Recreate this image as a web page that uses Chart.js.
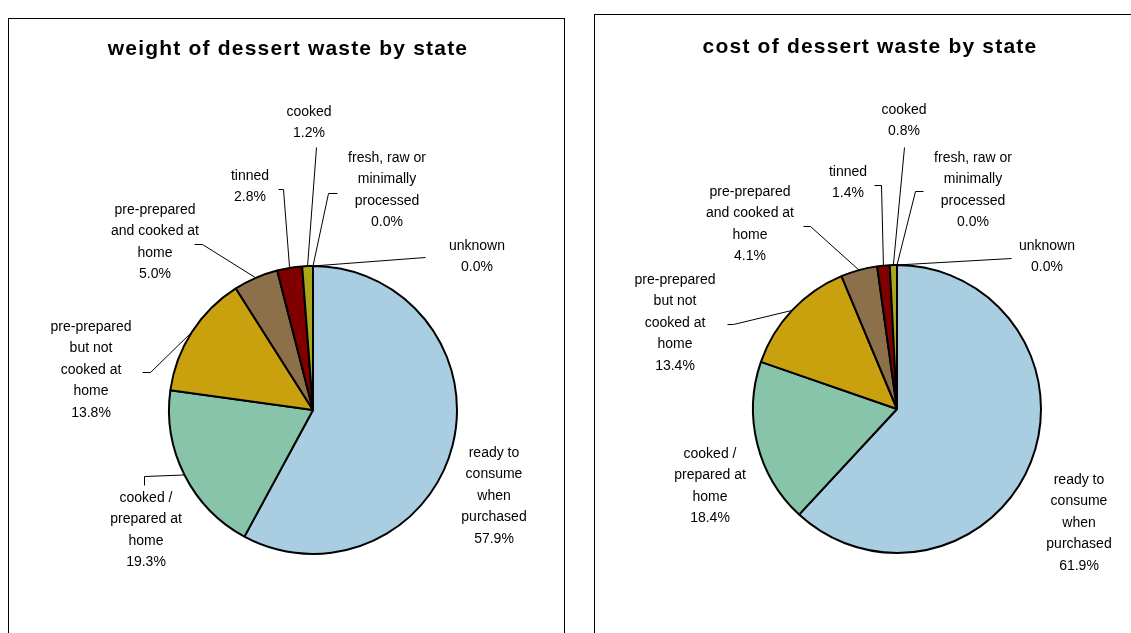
<!DOCTYPE html>
<html>
<head>
<meta charset="utf-8">
<script src="https://cdn.jsdelivr.net/npm/chart.js@4"></script>
<style>
body { margin: 0; background: #fff; width: 1131px; height: 633px; overflow: hidden; position: relative; }
.box { position: absolute; border: 1px solid #000; background: #fff; }
#box1 { left: 8px; top: 18px; width: 555px; height: 640px; }
#box2 { left: 594px; top: 14px; width: 560px; height: 640px; }
canvas { position: absolute; left: 0; top: 0; }
</style>
</head>
<body>
<div class="box" id="box1"><canvas id="weightChart" width="555" height="614"></canvas></div>
<div class="box" id="box2"><canvas id="costChart" width="536" height="618"></canvas></div>
<script>
var states = ['ready to consume when purchased', 'cooked / prepared at home', 'pre-prepared but not cooked at home',
    'pre-prepared and cooked at home', 'tinned', 'cooked', 'fresh, raw or minimally processed', 'unknown'];
var stateLines = [
    ['ready to', 'consume', 'when', 'purchased'],
    ['cooked /', 'prepared at', 'home'],
    ['pre-prepared', 'but not', 'cooked at', 'home'],
    ['pre-prepared', 'and cooked at', 'home'],
    ['tinned'],
    ['cooked'],
    ['fresh, raw or', 'minimally', 'processed'],
    ['unknown']
];
var weightShare = [57.9, 19.3, 13.8, 5.0, 2.8, 1.2, 0.0, 0.0];
var costShare = [61.9, 18.4, 13.4, 4.1, 1.4, 0.8, 0.0, 0.0];
var colours = ['#a9cde1', '#88c4a9', '#c9a00e', '#8b7049', '#800000', '#a8a81a', '#d9d9d9', '#ffffff'];

// label placement relative to pie centre: text centre / first line, then leader path (ends at slice edge)
var weightLabelPos = [
    {dx: 181, dy: 43, lead: []},
    {dx: -167, dy: 88, lead: [[-169, 75], [-169, 66]]},
    {dx: -222, dy: -83, lead: [[-171, -38], [-163, -38]]},
    {dx: -158, dy: -200, lead: [[-119, -166], [-111, -166]]},
    {dx: -63, dy: -234, lead: [[-35, -221], [-30, -221]]},
    {dx: -4, dy: -298, lead: [[3, -263]]},
    {dx: 74, dy: -252, lead: [[24, -217], [15, -217]]},
    {dx: 164, dy: -164, lead: [[112, -153]]}
];
var costLabelPos = [
    {dx: 182, dy: 71, lead: []},
    {dx: -187, dy: 45, lead: []},
    {dx: -222, dy: -129, lead: [[-170, -85], [-164, -85]]},
    {dx: -147, dy: -217, lead: [[-94, -183], [-87, -183]]},
    {dx: -49, dy: -237, lead: [[-23, -224], [-16, -224]]},
    {dx: 7, dy: -299, lead: [[7, -262]]},
    {dx: 76, dy: -251, lead: [[26, -218], [18, -218]]},
    {dx: 150, dy: -163, lead: [[114, -151]]}
];

var pieLabels = {
    id: 'pieLabels',
    afterDraw: function(chart, args, opts) {
        var c = chart.ctx;
        var arcs = chart.getDatasetMeta(0).data;
        var values = chart.data.datasets[0].data;
        c.save();
        // title
        c.fillStyle = '#000';
        c.font = 'bold 21px "Liberation Sans", Arial, sans-serif';
        c.letterSpacing = '1.2px';
        c.textAlign = 'center';
        c.textBaseline = 'middle';
        c.fillText(opts.title, opts.titleX, opts.titleY);
        c.letterSpacing = '0px';
        c.font = '14px "Liberation Sans", Arial, sans-serif';
        c.strokeStyle = '#000';
        c.lineWidth = 1;
        arcs.forEach(function(arc, i) {
            var p = arc.getProps(['x', 'y', 'startAngle', 'endAngle', 'outerRadius'], true);
            var pos = opts.positions[i];
            var lines = stateLines[i].concat([values[i].toFixed(1) + '%']);
            lines.forEach(function(t, k) {
                c.fillText(t, p.x + pos.dx, p.y + pos.dy + k * 21.5);
            });
            if (pos.lead.length) {
                var mid = (p.startAngle + p.endAngle) / 2;
                c.beginPath();
                c.moveTo(p.x + pos.lead[0][0] + 0.5, p.y + pos.lead[0][1] + 0.5);
                for (var j = 1; j < pos.lead.length; j++) {
                    c.lineTo(p.x + pos.lead[j][0] + 0.5, p.y + pos.lead[j][1] + 0.5);
                }
                c.lineTo(p.x + Math.cos(mid) * p.outerRadius, p.y + Math.sin(mid) * p.outerRadius);
                c.stroke();
            }
        });
        c.restore();
    }
};

function makePie(id, values, title, positions, pad, titleX, titleY) {
    return new Chart(document.getElementById(id), {
        type: 'pie',
        data: {
            labels: states,
            datasets: [{
                data: values,
                backgroundColor: colours,
                borderColor: '#000',
                borderWidth: 2,
                hoverOffset: 0,
                offset: 0
            }]
        },
        options: {
            responsive: false,
            maintainAspectRatio: false,
            animation: false,
            layout: { padding: pad },
            plugins: {
                legend: { display: false },
                tooltip: { enabled: false },
                title: { display: false },
                pieLabels: { title: title, titleX: titleX, titleY: titleY, positions: positions }
            }
        },
        plugins: [pieLabels]
    });
}

var weightChart = makePie('weightChart', weightShare, 'weight of dessert waste by state', weightLabelPos,
    {left: 159, right: 106, top: 246, bottom: 78}, 279, 30);
var costChart = makePie('costChart', costShare, 'cost of dessert waste by state', costLabelPos,
    {left: 157, right: 89, top: 249, bottom: 79}, 275, 32);
</script>
</body>
</html>
